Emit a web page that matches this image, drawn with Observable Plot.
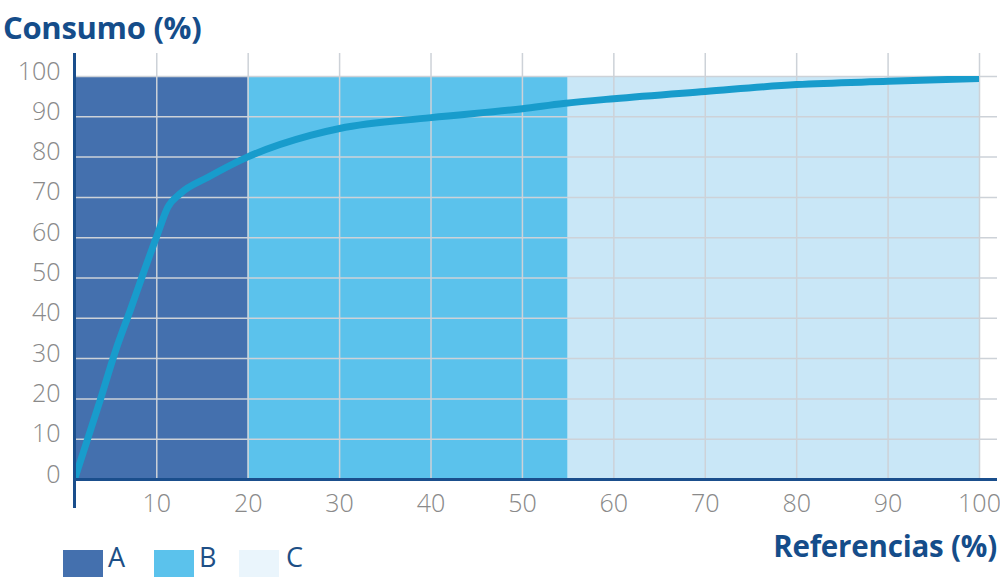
<!DOCTYPE html>
<html>
<head>
<meta charset="utf-8">
<script src="https://cdn.jsdelivr.net/npm/d3@7"></script>
<script src="https://cdn.jsdelivr.net/npm/@observablehq/plot@0.6"></script>
<style>
  html, body { margin: 0; padding: 0; background: #fff; }
  #wrap { position: relative; width: 1000px; height: 577px; overflow: hidden; font-family: "Open Sans", sans-serif; }
  #title { position: absolute; left: 3px; top: 12px; font-size: 31px; line-height: 1; font-weight: 700; color: #154d8a; letter-spacing: -0.3px; white-space: nowrap; }
  #chart { position: absolute; left: 0; top: 48px; }
  #xlabel { position: absolute; right: 3px; top: 531px; font-size: 29.5px; line-height: 1; font-weight: 700; color: #154d8a; letter-spacing: -0.2px; white-space: nowrap; }
  .sw { position: absolute; top: 550px; width: 40px; height: 30px; }
  .lg { position: absolute; top: 543px; font-size: 27px; line-height: 1; font-weight: 400; color: #1d4f86; }
</style>
</head>
<body>
<div id="wrap">
  <div id="title">Consumo (%)</div>
  <div id="chart"></div>
  <div id="xlabel">Referencias (%)</div>
  <div id="legend"></div>
</div>
<script>
// ---- data ----
const xTicks = [10, 20, 30, 40, 50, 60, 70, 80, 90, 100];
const yTicks = [0, 10, 20, 30, 40, 50, 60, 70, 80, 90, 100];
const zoneNames = ["A", "B", "C"];
const zoneStart = [1, 20, 55];
const zoneEnd = [20, 55, 100];
const zoneTop = [100, 100, 100];
const referencias = [1, 3.8, 5.5, 7.1, 8.5, 10.1, 11.2, 12.6, 15.6, 19.9, 26.8, 30, 40, 50, 54.5, 60, 70, 80, 90, 100];
const consumo =     [0, 19.6, 32, 42, 51, 61, 67.5, 71, 75, 80, 85.4, 87.1, 89.8, 92, 93.3, 94.5, 96.3, 98, 98.8, 99.5];

// ---- styles ----
const zoneColors = ["#4470ae", "#5bc2ec", "#c9e7f7"];
const legendColors = ["#4470ae", "#5bc2ec", "#eaf5fc"];
const axisColor = "#1a4e8c";
const gridColor = "#cdd2d8";
const tickColor = "#8a8a8a";
const curveColor = "#189ccc";
const tickFont = "'Open Sans Light', 'Lato Light', 'Open Sans', sans-serif";

const zones = zoneNames.map((name, i) => ({name, start: zoneStart[i], end: zoneEnd[i], top: zoneTop[i]}));
const curve = referencias.map((x, i) => ({x, y: consumo[i]}));

const chart = Plot.plot({
  width: 1000,
  height: 482,
  marginLeft: 74,
  marginRight: 21,
  marginTop: 28,
  marginBottom: 51,
  style: {fontFamily: "Open Sans, sans-serif", background: "transparent"},
  x: {domain: [1, 100]},
  y: {domain: [0, 100]},
  color: {domain: zoneNames, range: zoneColors},
  marks: [
    Plot.rectY(zones, {x1: "start", x2: "end", y: "top", fill: "name"}),
    Plot.ruleX(xTicks, {stroke: gridColor, strokeWidth: 1.5, insetTop: -23}),
    Plot.ruleY(yTicks.filter(d => d > 0), {stroke: gridColor, strokeWidth: 1.5, insetRight: -18}),
    Plot.line(curve, {x: "x", y: "y", stroke: curveColor, strokeWidth: 7, curve: "monotone-x", clip: true}),
    Plot.ruleX([1], {stroke: axisColor, strokeWidth: 3, insetTop: -23, insetBottom: -29}),
    Plot.ruleY([0], {stroke: axisColor, strokeWidth: 3, insetRight: -18}),
    Plot.axisX(xTicks, {tickSize: 0, tickPadding: 15, fontSize: 25, fontWeight: 300, fontFamily: tickFont, color: tickColor, label: null}),
    Plot.axisY(yTicks, {tickSize: 0, tickPadding: 14, dy: -5, fontSize: 25, fontWeight: 300, fontFamily: tickFont, color: tickColor, label: null})
  ]
});
document.getElementById("chart").appendChild(chart);

// legend
const legend = document.getElementById("legend");
const swLeft = [63, 154, 239];
const lbLeft = [108, 199, 286];
zoneNames.forEach((n, i) => {
  const s = document.createElement("div");
  s.className = "sw";
  s.style.left = swLeft[i] + "px";
  s.style.background = legendColors[i];
  legend.appendChild(s);
  const t = document.createElement("div");
  t.className = "lg";
  t.style.left = lbLeft[i] + "px";
  t.textContent = n;
  legend.appendChild(t);
});
</script>
</body>
</html>
